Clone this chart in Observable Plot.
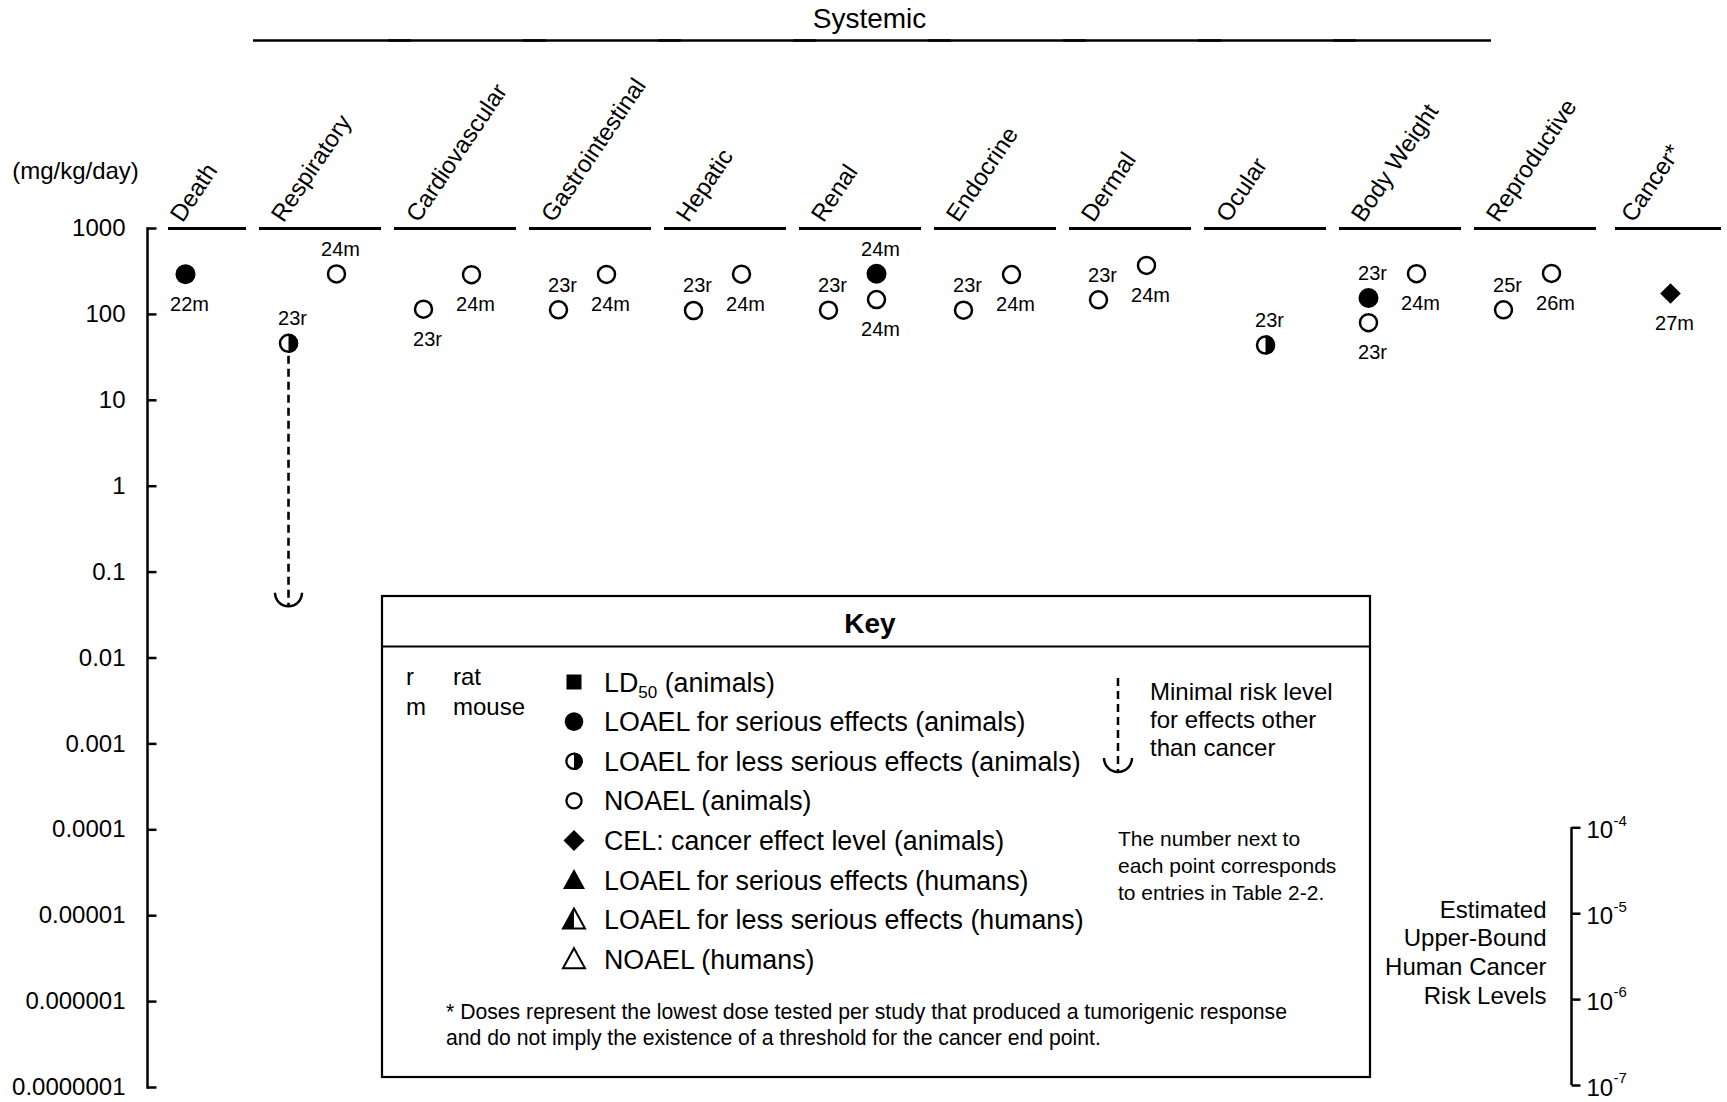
<!DOCTYPE html>
<html>
<head>
<meta charset="utf-8">
<script src="https://cdn.jsdelivr.net/npm/d3@7"></script>
<script src="https://cdn.jsdelivr.net/npm/@observablehq/plot@0.6"></script>
<style>
html, body { margin: 0; padding: 0; background: #fff; }
#wrap { position: relative; width: 1727px; height: 1102px; overflow: hidden; font-family: "Liberation Sans", Arial, Helvetica, sans-serif; }
</style>
</head>
<body>
<div id="wrap"></div>
<script>
// ---------------- data ----------------
const categories = ["Death", "Respiratory", "Cardiovascular", "Gastrointestinal", "Hepatic", "Renal",
  "Endocrine", "Dermal", "Ocular", "Body Weight", "Reproductive", "Cancer*"];
const systemicCategories = ["Respiratory", "Cardiovascular", "Gastrointestinal", "Hepatic", "Renal",
  "Endocrine", "Dermal", "Ocular", "Body Weight"];
const systemicLabel = "Systemic";
const unitLabel = "(mg/kg/day)";

const yTicks = [1000, 100, 10, 1, 0.1, 0.01, 0.001, 0.0001, 0.00001, 0.000001, 0.0000001];
const yTickLabels = ["1000", "100", "10", "1", "0.1", "0.01", "0.001", "0.0001", "0.00001", "0.000001", "0.0000001"];

// one entry per plotted point
const pointCategory = ["Death", "Respiratory", "Respiratory", "Cardiovascular", "Cardiovascular",
  "Gastrointestinal", "Gastrointestinal", "Hepatic", "Hepatic", "Renal", "Renal", "Renal",
  "Endocrine", "Endocrine", "Dermal", "Dermal", "Ocular", "Body Weight", "Body Weight", "Body Weight",
  "Reproductive", "Reproductive", "Cancer*"];
const pointStudy = ["22m", "23r", "24m", "23r", "24m", "23r", "24m", "23r", "24m", "23r", "24m", "24m",
  "23r", "24m", "23r", "24m", "23r", "23r", "23r", "24m", "25r", "26m", "27m"];
const pointDose = [294, 46, 296, 115, 290, 113, 292, 111, 294, 112, 297, 149,
  112, 291, 148, 372, 44, 155, 80, 298, 113, 300, 175];
// serious = LOAEL serious (animals), less = LOAEL less serious (animals), noael = NOAEL (animals), cel = cancer effect level
const pointEffect = ["serious", "less", "noael", "noael", "noael", "noael", "noael", "noael", "noael", "noael", "serious", "noael",
  "noael", "noael", "noael", "noael", "less", "serious", "noael", "noael", "noael", "noael", "cel"];
const labelSide = ["below", "above", "above", "below", "below", "above", "below", "above", "below", "above", "above", "below",
  "above", "below", "above", "below", "above", "above", "below", "below", "above", "below", "below"];

// minimal risk level
const mrlCategory = "Respiratory";
const mrlStudy = "23r";
const mrlFrom = 46;
const mrlValue = 0.04;

// cancer risk levels
const riskDoses = [0.0001, 0.00001, 0.000001, 0.0000001];
const riskBase = ["10", "10", "10", "10"];
const riskExp = ["-4", "-5", "-6", "-7"];
const riskTitle = "Estimated\nUpper-Bound\nHuman Cancer\nRisk Levels";

// key
const keyTitle = "Key";
const speciesCodes = ["r", "m"];
const speciesNames = ["rat", "mouse"];
const keySymbols = ["square", "circleFilled", "circleHalf", "circleOpen", "diamond", "triangleFilled", "triangleHalf", "triangleOpen"];
const keyLabels = [["LD", "50", " (animals)"], ["LOAEL for serious effects (animals)"], ["LOAEL for less serious effects (animals)"],
  ["NOAEL (animals)"], ["CEL: cancer effect level (animals)"], ["LOAEL for serious effects (humans)"],
  ["LOAEL for less serious effects (humans)"], ["NOAEL (humans)"]];
const mrlKeyLines = ["Minimal risk level", "for effects other", "than cancer"];
const noteLines = ["The number next to", "each point corresponds", "to entries in Table 2-2."];
const footnoteLines = ["* Doses represent the lowest dose tested per study that produced a tumorigenic response",
  "and do not imply the existence of a threshold for the cancer end point."];

// ---------------- chart ----------------
const FONT = "'Liberation Sans', Arial, Helvetica, sans-serif";
const points = pointCategory.map((c, i) => ({
  category: c, study: pointStudy[i], species: pointStudy[i].slice(-1),
  dose: pointDose[i], effect: pointEffect[i], side: labelSide[i]
}));
const speciesCount = d3.rollup(points, v => new Set(v.map(d => d.species)).size, d => d.category);
const colOf = (cat, sp) => speciesCount.get(cat) > 1 ? (sp === "r" ? "left" : "right") : "center";
const colDx = {left: -32, center: 0, right: 16};

const halfRight = {draw(ctx, size) { const r = Math.sqrt(size / Math.PI); ctx.moveTo(0, -r); ctx.arc(0, 0, r, -Math.PI / 2, Math.PI / 2, false); ctx.closePath(); }};
const cup = {draw(ctx, size) { const r = Math.sqrt(size / Math.PI); ctx.moveTo(-r, -r); ctx.arc(0, -r, r, Math.PI, 0, true); }};
const tickRight = {draw(ctx, size) { const l = Math.sqrt(size / Math.PI); ctx.moveTo(0, 0); ctx.lineTo(l, 0); }};

const first = categories[0], last = categories[categories.length - 1];
const middle = categories.slice(1, -1);
const marks = [];
// category header segments at the top of the scale
marks.push(Plot.tickY(middle, {x: d => d, y: () => 1000, stroke: "black", strokeWidth: 3}));
marks.push(Plot.tickY([first], {x: d => d, y: () => 1000, stroke: "black", strokeWidth: 3, insetLeft: 44}));
marks.push(Plot.tickY([last], {x: d => d, y: () => 1000, stroke: "black", strokeWidth: 3, insetLeft: 6, insetRight: 10}));
// systemic group line + label
marks.push(Plot.tickY(systemicCategories, {x: d => d, y: () => 1000, dy: -188, stroke: "black", strokeWidth: 2.6, insetLeft: -6, insetRight: -30}));
marks.push(Plot.text([systemicLabel], {x: () => systemicCategories[Math.floor(systemicCategories.length / 2)], frameAnchor: "top", lineAnchor: "middle", dx: 9, dy: -209, fontSize: 28, text: d => d}));
// rotated category labels
marks.push(Plot.text(categories.slice(1), {x: d => d, text: d => d, frameAnchor: "top", rotate: -56, textAnchor: "start", lineAnchor: "bottom", dx: -37, dy: -5, fontSize: 24}));
marks.push(Plot.text([first], {x: d => d, text: d => d, frameAnchor: "top", rotate: -56, textAnchor: "start", lineAnchor: "bottom", dx: -3, dy: -5, fontSize: 24}));
// unit label
marks.push(Plot.text([unitLabel], {text: d => d, frameAnchor: "top-left", textAnchor: "middle", lineAnchor: "middle", dx: -72, dy: -57, fontSize: 24}));
// y axis
marks.push(Plot.frame({anchor: "left", stroke: "black", strokeWidth: 2.5}));
marks.push(Plot.axisY({ticks: yTicks, tickFormat: d => yTickLabels[yTicks.indexOf(d)], tickSize: 0, tickPadding: 22, fontSize: 24, label: null}));
marks.push(Plot.dot(yTicks, {y: d => d, frameAnchor: "left", symbol: tickRight, r: 9, fill: "none", stroke: "black", strokeWidth: 2.5}));

// MRL dashed line and cup
const mrlCol = colDx[colOf(mrlCategory, mrlStudy.slice(-1))];
marks.push(Plot.ruleX([0], {x: () => mrlCategory, y1: () => mrlFrom, y2: () => mrlValue, dx: mrlCol, insetTop: 13, stroke: "black", strokeWidth: 2.6, strokeDasharray: "8,5"}));
marks.push(Plot.dot([0], {x: () => mrlCategory, y: () => mrlValue, dx: mrlCol, symbol: cup, r: 13.5, fill: "none", stroke: "black", strokeWidth: 2.5}));

// points by column
for (const col of ["left", "center", "right"]) {
  const g = points.filter(d => colOf(d.category, d.species) === col);
  const dx = colDx[col];
  marks.push(Plot.dot(g.filter(d => d.effect === "noael" || d.effect === "less"), {x: "category", y: "dose", dx, r: 8.5, fill: "white", stroke: "black", strokeWidth: 2.5}));
  marks.push(Plot.dot(g.filter(d => d.effect === "less"), {x: "category", y: "dose", dx, r: 9.7, symbol: halfRight, fill: "black", stroke: "none"}));
  marks.push(Plot.dot(g.filter(d => d.effect === "serious"), {x: "category", y: "dose", dx, r: 10, fill: "black", stroke: "none"}));
  marks.push(Plot.dot(g.filter(d => d.effect === "cel"), {x: "category", y: "dose", dx, r: 9.3, symbol: "diamond2", fill: "black", stroke: "none"}));
  marks.push(Plot.text(g.filter(d => d.side === "above"), {x: "category", y: "dose", text: "study", dx: dx + 4, dy: -24.5, fontSize: 20}));
  marks.push(Plot.text(g.filter(d => d.side === "below"), {x: "category", y: "dose", text: "study", dx: dx + 4, dy: 30, fontSize: 20}));
}

// cancer risk level scale
const riskX = () => "Reproductive";
marks.push(Plot.ruleX([0], {x: riskX, y1: () => d3.max(riskDoses), y2: () => d3.min(riskDoses), dx: 36, dy: -2, stroke: "black", strokeWidth: 2.5}));
marks.push(Plot.dot(riskDoses, {x: riskX, y: d => d, dx: 36, dy: -2, symbol: tickRight, r: 9, fill: "none", stroke: "black", strokeWidth: 2.5}));
marks.push(Plot.text(riskDoses, {x: riskX, y: d => d, text: (d, i) => riskBase[i], dx: 51, dy: 1, textAnchor: "start", fontSize: 24}));
marks.push(Plot.text(riskDoses, {x: riskX, y: d => d, text: (d, i) => riskExp[i], dx: 78, dy: -9, textAnchor: "start", fontSize: 15}));
marks.push(Plot.text([riskTitle], {x: riskX, y: () => Math.sqrt(riskDoses[1] * riskDoses[2]), text: d => d, dx: 11, dy: -7, textAnchor: "end", fontSize: 24, lineHeight: 1.2}));

const chart = Plot.plot({
  width: 1727, height: 1102,
  marginLeft: 147, marginRight: 0, marginTop: 228, marginBottom: 15,
  style: {fontFamily: FONT, fontSize: "19px", color: "black", background: "white", overflow: "visible"},
  x: {type: "band", domain: categories, range: [114.6, 1739.6], paddingInner: 0.1, paddingOuter: 0.05, axis: null},
  y: {type: "log", domain: [0.0000001, 1000], axis: null},
  marks
});
const wrap = document.getElementById("wrap");
wrap.appendChild(chart);

// ---------------- key (legend) ----------------
const keyW = 988, keyH = 481;
const svgK = d3.create("svg")
  .attr("width", keyW + 4).attr("height", keyH + 4)
  .style("position", "absolute").style("left", "380px").style("top", "594px")
  .style("font-family", FONT);
const k = svgK.append("g").attr("transform", "translate(2,2)");
k.append("rect").attr("width", keyW).attr("height", keyH).attr("fill", "white").attr("stroke", "black").attr("stroke-width", 2.2);
k.append("line").attr("x1", 0).attr("x2", keyW).attr("y1", 50.5).attr("y2", 50.5).attr("stroke", "black").attr("stroke-width", 2.2);
k.append("text").attr("x", keyW / 2 - 6).attr("y", 37).attr("text-anchor", "middle").attr("font-weight", "bold").attr("font-size", 28).text(keyTitle);

speciesCodes.forEach((c, i) => {
  const y = 80 + i * 30 + 8.6;
  k.append("text").attr("x", 24).attr("y", y).attr("font-size", 24).text(c);
  k.append("text").attr("x", 71).attr("y", y).attr("font-size", 24).text(speciesNames[i]);
});

const symX = 192, txtX = 222;
keySymbols.forEach((s, i) => {
  const cy = 86 + i * 39.6;
  const sg = k.append("g").attr("transform", `translate(${symX},${cy})`);
  const tri = "M0,-11L11,9L-11,9Z";
  if (s === "square") sg.append("rect").attr("x", -7.5).attr("y", -7.5).attr("width", 15).attr("height", 15).attr("fill", "black");
  if (s === "circleFilled") sg.append("circle").attr("r", 9.3).attr("fill", "black");
  if (s === "circleHalf" || s === "circleOpen") sg.append("circle").attr("r", 7.6).attr("fill", "white").attr("stroke", "black").attr("stroke-width", 2.3);
  if (s === "circleHalf") sg.append("path").attr("d", d3.arc()({innerRadius: 0, outerRadius: 8.75, startAngle: 0, endAngle: Math.PI})).attr("fill", "black");
  if (s === "diamond") sg.append("path").attr("d", "M0,-10.5L10.5,0L0,10.5L-10.5,0Z").attr("fill", "black");
  if (s === "triangleFilled") sg.append("path").attr("d", tri).attr("fill", "black");
  if (s === "triangleHalf" || s === "triangleOpen") sg.append("path").attr("d", tri).attr("fill", "white").attr("stroke", "black").attr("stroke-width", 2).attr("stroke-linejoin", "miter");
  if (s === "triangleHalf") sg.append("path").attr("d", "M0,-11L0,9L-11,9Z").attr("fill", "black");
  const t = k.append("text").attr("x", txtX).attr("y", cy + 9.5).attr("font-size", 26.8);
  const lab = keyLabels[i];
  t.append("tspan").text(lab[0]);
  if (lab.length > 1) {
    t.append("tspan").attr("font-size", 17).attr("dy", 6).text(lab[1]);
    t.append("tspan").attr("dy", -6).text(lab[2]);
  }
});

// MRL symbol in key
k.append("line").attr("x1", 736).attr("x2", 736).attr("y1", 82).attr("y2", 176)
  .attr("stroke", "black").attr("stroke-width", 2.5).attr("stroke-dasharray", "8,5");
k.append("path").attr("d", "M722,162A14,14 0 0 0 750,162").attr("fill", "none").attr("stroke", "black").attr("stroke-width", 2.4);
mrlKeyLines.forEach((l, i) => k.append("text").attr("x", 768).attr("y", 95 + i * 28 + 8.6).attr("font-size", 24).text(l));
noteLines.forEach((l, i) => k.append("text").attr("x", 736).attr("y", 242 + i * 27 + 7.5).attr("font-size", 21).text(l));
footnoteLines.forEach((l, i) => k.append("text").attr("x", 64).attr("y", 415 + i * 26.5 + 7.5).attr("font-size", 21.2).text(l));

wrap.appendChild(svgK.node());
</script>
</body>
</html>
